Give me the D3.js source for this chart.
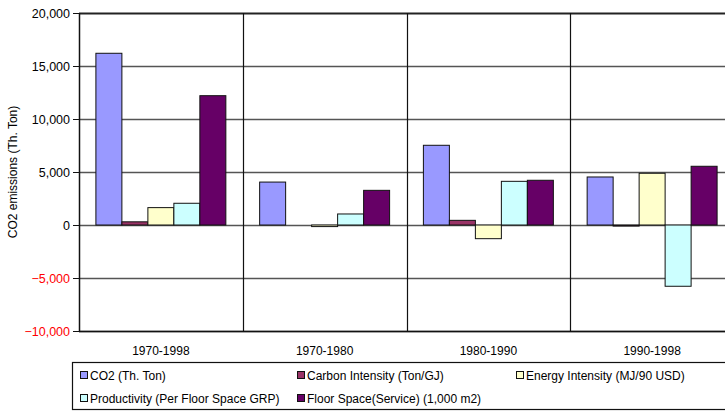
<!DOCTYPE html>
<html>
<head>
<meta charset="utf-8">
<script src="https://cdn.jsdelivr.net/npm/d3@7"></script>
<style>
  html, body { margin: 0; padding: 0; background: #fff; }
  svg { display: block; font-family: "Liberation Sans", Arial, sans-serif; }
</style>
</head>
<body>
<svg id="chart" width="725" height="411"></svg>
<script>
// Decomposition periods
const categories = ["1970-1998", "1970-1980", "1980-1990", "1990-1998"];

// Factor contributions to CO2 change (Th. Ton), one array per factor
const co2 = [16200, 4050, 7520, 4530];
const carbonIntensity = [300, 0, 440, -100];
const energyIntensity = [1640, -150, -1290, 4880];
const productivity = [2050, 1040, 4120, -5780];
const floorSpace = [12200, 3270, 4220, 5540];

const seriesNames = [
  "CO2 (Th. Ton)",
  "Carbon Intensity (Ton/GJ)",
  "Energy Intensity (MJ/90 USD)",
  "Productivity (Per Floor Space GRP)",
  "Floor Space(Service) (1,000 m2)"
];
const seriesValues = [co2, carbonIntensity, energyIntensity, productivity, floorSpace];
const seriesColors = ["#9999FF", "#993366", "#FFFFCC", "#CCFFFF", "#660066"];

const yTicks = [-10000, -5000, 0, 5000, 10000, 15000, 20000];

const svg = d3.select("#chart");

const plot = { left: 79, top: 13, right: 734, bottom: 331 };

const x = d3.scaleBand()
  .domain(categories)
  .range([plot.left, plot.right])
  .paddingInner(0)
  .paddingOuter(0);

const xInner = d3.scaleBand()
  .domain(d3.range(seriesNames.length))
  .range([0, x.bandwidth()])
  .paddingInner(0)
  .paddingOuter(0.65);

const y = d3.scaleLinear()
  .domain([-10000, 20000])
  .range([plot.bottom, plot.top]);

// Horizontal gridlines
svg.append("g")
  .selectAll("line")
  .data(yTicks)
  .join("line")
  .attr("x1", plot.left)
  .attr("x2", plot.right)
  .attr("y1", d => Math.round(y(d)) + 0.5)
  .attr("y2", d => Math.round(y(d)) + 0.5)
  .attr("stroke", d => d === 20000 ? "#222" : "#555")
  .attr("stroke-width", d => d === 20000 ? 2 : 1.4);

// Vertical category dividers
svg.append("g")
  .selectAll("line")
  .data(categories.slice(1))
  .join("line")
  .attr("x1", d => Math.round(x(d)) + 0.5)
  .attr("x2", d => Math.round(x(d)) + 0.5)
  .attr("y1", plot.top)
  .attr("y2", plot.bottom)
  .attr("stroke", "#111")
  .attr("stroke-width", 1.2);

// Bars
const rows = [];
seriesValues.forEach((vals, si) => {
  vals.forEach((v, ci) => rows.push({ si, cat: categories[ci], value: v }));
});

svg.append("g")
  .selectAll("rect")
  .data(rows)
  .join("rect")
  .attr("x", d => x(d.cat) + xInner(d.si))
  .attr("width", xInner.bandwidth())
  .attr("y", d => y(Math.max(0, d.value)))
  .attr("height", d => Math.abs(y(d.value) - y(0)))
  .attr("fill", d => seriesColors[d.si])
  .attr("stroke", "#111")
  .attr("stroke-width", 1);

// Plot frame: left and bottom
svg.append("line")
  .attr("x1", plot.left + 0.5).attr("x2", plot.left + 0.5)
  .attr("y1", plot.top).attr("y2", plot.bottom + 1)
  .attr("stroke", "#111").attr("stroke-width", 1.5);
svg.append("line")
  .attr("x1", plot.left).attr("x2", plot.right)
  .attr("y1", plot.bottom + 0.5).attr("y2", plot.bottom + 0.5)
  .attr("stroke", "#111").attr("stroke-width", 1.5);

// Value axis
const yAxis = svg.append("g")
  .attr("transform", `translate(${plot.left},0)`)
  .call(d3.axisLeft(y).tickValues(yTicks).tickFormat(d3.format(",")).tickSize(6).tickPadding(3));
yAxis.select(".domain").remove();
yAxis.selectAll(".tick line").attr("stroke", "#111");
yAxis.selectAll(".tick text")
  .attr("font-size", 12.5)
  .attr("font-family", "Liberation Sans, Arial, sans-serif")
  .attr("fill", d => d < 0 ? "#FF0000" : "#000");

// Axis title
svg.append("text")
  .attr("transform", `translate(17,${(plot.top + plot.bottom) / 2}) rotate(-90)`)
  .attr("text-anchor", "middle")
  .attr("font-size", 12)
  .text("CO2 emissions (Th. Ton)");

// Category labels
svg.append("g")
  .selectAll("text")
  .data(categories)
  .join("text")
  .attr("x", d => x(d) + x.bandwidth() / 2)
  .attr("y", 355)
  .attr("text-anchor", "middle")
  .attr("font-size", 12)
  .text(d => d);

// Legend
const legend = svg.append("g");
legend.append("rect")
  .attr("x", 72.5).attr("y", 362.5)
  .attr("width", 700).attr("height", 47)
  .attr("fill", "#fff").attr("stroke", "#111").attr("stroke-width", 1.2);

const legendPos = [
  [80, 375], [297, 375], [516, 375],
  [80, 398], [297, 398]
];
const items = legend.selectAll("g.item")
  .data(seriesNames)
  .join("g")
  .attr("class", "item")
  .attr("transform", (d, i) => `translate(${legendPos[i][0]},${legendPos[i][1]})`);
items.append("rect")
  .attr("x", 0.5).attr("y", -3.5)
  .attr("width", 7).attr("height", 7)
  .attr("fill", (d, i) => seriesColors[i])
  .attr("stroke", "#111").attr("stroke-width", 1);
items.append("text")
  .attr("x", 10)
  .attr("y", 4.5)
  .attr("font-size", 12)
  .text(d => d);
</script>
</body>
</html>
